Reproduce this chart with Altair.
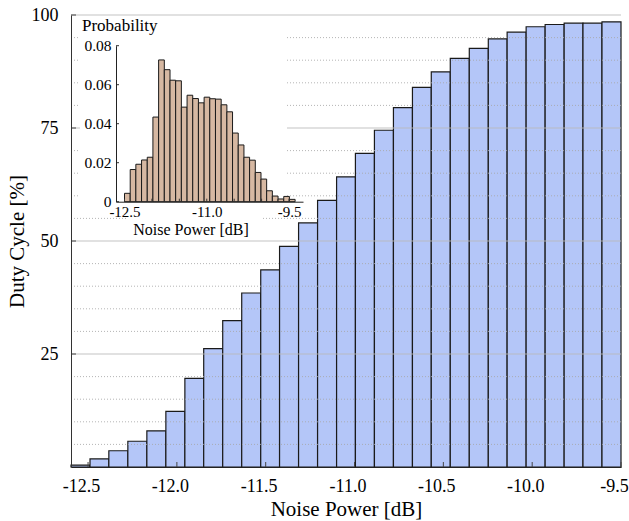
import altair as alt
import pandas as pd

# ---------------- data ----------------
main_edges = [-12.596, -12.489, -12.383, -12.276, -12.169, -12.062, -11.955, -11.849,
              -11.742, -11.635, -11.528, -11.422, -11.315, -11.208, -11.101, -10.995,
              -10.888, -10.781, -10.674, -10.568, -10.461, -10.354, -10.247, -10.141,
              -10.034, -9.927, -9.820, -9.714, -9.607, -9.500]
duty_cycle = [0.4, 1.8, 3.6, 5.7, 8.0, 12.3, 19.6, 26.2, 32.4, 38.5,
              43.6, 48.8, 54.0, 59.0, 64.2, 69.4, 74.5, 79.5, 84.0, 87.4,
              90.4, 92.6, 94.7, 96.2, 97.4, 97.9, 98.2, 98.2, 98.5]

inset_edges = [-12.500, -12.396, -12.293, -12.189, -12.085, -11.982, -11.878, -11.774,
               -11.670, -11.567, -11.463, -11.359, -11.256, -11.152, -11.048, -10.945,
               -10.841, -10.737, -10.633, -10.530, -10.426, -10.322, -10.219, -10.115,
               -10.011, -9.908, -9.804, -9.700, -9.596, -9.493, -9.389]
probability = [0.0043, 0.0165, 0.0192, 0.0214, 0.0228, 0.0434, 0.0727, 0.0677, 0.0623, 0.0620,
               0.0485, 0.0546, 0.0529, 0.0507, 0.0536, 0.0528, 0.0526, 0.0497, 0.0461, 0.0352,
               0.0291, 0.0228, 0.0213, 0.0150, 0.0116, 0.0056, 0.0029, 0.0014, 0.0027, 0.0012]

main_xticks = [-12.5, -12.0, -11.5, -11.0, -10.5, -10.0, -9.5]
main_yticks = [25, 50, 75, 100]
minor_grid = [5, 10, 15, 20, 30, 35, 40, 45, 55, 60, 65, 70, 80, 85, 90, 95]
inset_xticks = [-12.5, -12.0, -11.5, -11.0, -10.5, -10.0, -9.5]
inset_xlabels = [-12.5, -11.0, -9.5]
inset_yticks = [0, 0.02, 0.04, 0.06, 0.08]

main_domain_x = [-12.596, -9.5]
main_domain_y = [0, 100]
inset_domain_x = [-12.655, -9.245]
inset_domain_y = [0, 0.08]

# ---------------- layout / style ----------------
W, H = 550, 452
FONT = "Liberation Serif"
INSET_X_RANGE = [45, 232]
INSET_Y_RANGE = [186.7, 30.7]

main_df = pd.DataFrame({"lo": main_edges[:-1], "hi": main_edges[1:], "duty": duty_cycle})
inset_df = pd.DataFrame({"lo": inset_edges[:-1], "hi": inset_edges[1:], "p": probability})


def xs_main():
    return alt.Scale(domain=main_domain_x, range=[0, W], nice=False, zero=False)


def ys_main():
    return alt.Scale(domain=main_domain_y, range=[H, 0], nice=False, zero=False)


def xs_in():
    return alt.Scale(domain=inset_domain_x, range=INSET_X_RANGE, nice=False, zero=False)


def ys_in():
    return alt.Scale(domain=inset_domain_y, range=INSET_Y_RANGE, nice=False, zero=False)


neg_fmt = "(datum.value < 0 ? '-' : '') + format(abs(datum.value), '.1f')"

# ---------------- main chart ----------------
bars = alt.Chart(main_df).mark_rect(
    color="#b4c6f8", stroke="#1a1a1a", strokeWidth=1.2
).encode(
    x=alt.X("lo:Q", scale=xs_main(), axis=alt.Axis(
        orient="bottom", values=main_xticks, ticks=False, labelPadding=10,
        labelOffset=-7,
        labelFont=FONT, labelFontSize=18, labelColor="black", labelFlush=False,
        labelExpr=neg_fmt, domainColor="#222222", grid=False,
        title="Noise Power [dB]", titleFont=FONT, titleFontSize=21,
        titleFontWeight="normal", titleColor="black", titleX=W / 2, titleY=42,
        titleBaseline="middle", titleAlign="center", zindex=1)),
    x2="hi:Q",
    y=alt.Y("duty:Q", scale=ys_main(), axis=alt.Axis(
        orient="left", values=main_yticks, ticks=False, labelPadding=13,
        labelFont=FONT, labelFontSize=18, labelColor="black", labelFlush=False,
        domainColor="#333333", grid=False,
        title="Duty Cycle [%]", titleFont=FONT, titleFontSize=21,
        titleFontWeight="normal", titleColor="black", titleX=-54, titleY=H / 2,
        titleBaseline="middle", titleAlign="center", zindex=1)),
    y2=alt.Y2(datum=0),
)

grid_minor = alt.Chart(pd.DataFrame({"g": minor_grid})).mark_rule(
    color="#a8a8a8", strokeDash=[1, 2], strokeWidth=1, opacity=0.85
).encode(y=alt.Y("g:Q", scale=ys_main(), axis=None))

grid_major = alt.Chart(pd.DataFrame({"g": main_yticks})).mark_rule(
    color="#b8b8b8", strokeWidth=1, opacity=0.85
).encode(y=alt.Y("g:Q", scale=ys_main(), axis=None))

xticks_main = alt.Chart(pd.DataFrame({"t": main_xticks})).mark_rule(
    color="#444444", strokeWidth=1
).encode(x=alt.X("t:Q", scale=xs_main(), axis=None), y=alt.value(H), y2=alt.value(H - 5))

yticks_main = alt.Chart(pd.DataFrame({"t": main_yticks})).mark_rule(
    color="#444444", strokeWidth=1
).encode(y=alt.Y("t:Q", scale=ys_main(), axis=None), x=alt.value(0), x2=alt.value(5))

# ---------------- inset ----------------
box = alt.Chart(pd.DataFrame({"a": [0]})).mark_rect(color="white").encode(
    x=alt.value(9), x2=alt.value(216), y=alt.value(1), y2=alt.value(191))
title_box = alt.Chart(pd.DataFrame({"a": [0]})).mark_rect(color="white").encode(
    x=alt.value(57), x2=alt.value(191), y=alt.value(191), y2=alt.value(221))

inset_bars = alt.Chart(inset_df).mark_rect(
    color="#d6b8a2", stroke="#1a1a1a", strokeWidth=1
).encode(
    x=alt.X("lo:Q", scale=xs_in(), axis=alt.Axis(
        orient="bottom", offset=-(H - INSET_Y_RANGE[0]), values=inset_xlabels,
        ticks=False, labelPadding=3, labelFont=FONT, labelFontSize=15,
        labelColor="black", labelFlush=False, labelExpr=neg_fmt,
        domainColor="#222222", grid=False, title=None, zindex=1)),
    x2="hi:Q",
    y=alt.Y("p:Q", scale=ys_in(), axis=alt.Axis(
        orient="left", offset=-INSET_X_RANGE[0], values=inset_yticks,
        ticks=False, labelPadding=5, labelFont=FONT, labelFontSize=15.5,
        labelColor="black", labelFlush=False,
        labelExpr="datum.value == 0 ? '0' : format(datum.value, '.2f')",
        domainColor="#222222", grid=False, title=None, zindex=1)),
    y2=alt.Y2(datum=0),
)

inset_xt = alt.Chart(pd.DataFrame({"t": inset_xticks})).mark_rule(
    color="#333333", strokeWidth=1
).encode(x=alt.X("t:Q", scale=xs_in(), axis=None),
         y=alt.value(INSET_Y_RANGE[0]), y2=alt.value(INSET_Y_RANGE[0] - 3))

inset_yt = alt.Chart(pd.DataFrame({"t": inset_yticks})).mark_rule(
    color="#333333", strokeWidth=1
).encode(y=alt.Y("t:Q", scale=ys_in(), axis=None),
         x=alt.value(INSET_X_RANGE[0]), x2=alt.value(INSET_X_RANGE[0] + 3))

prob_title = alt.Chart(pd.DataFrame({"s": ["Probability"]})).mark_text(
    font=FONT, fontSize=17, align="left", baseline="middle", color="black"
).encode(text="s:N", x=alt.value(11), y=alt.value(11))

inset_xtitle = alt.Chart(pd.DataFrame({"s": ["Noise Power [dB]"]})).mark_text(
    font=FONT, fontSize=16, align="center", baseline="middle", color="black"
).encode(text="s:N", x=alt.value(120), y=alt.value(215))

chart = alt.layer(
    bars, grid_minor, grid_major, xticks_main, yticks_main,
    box, title_box, inset_bars, inset_xt, inset_yt, prob_title, inset_xtitle
).resolve_scale(
    x="independent", y="independent"
).resolve_axis(
    x="independent", y="independent"
).properties(
    width=W, height=H,
    padding={"left": 71, "top": 15, "right": 8, "bottom": 54},
    autosize=alt.AutoSizeParams(type="none"),
    background="white",
).configure_view(strokeWidth=0)

chart.save("out.html", embed_options={"renderer": "svg", "actions": False})
